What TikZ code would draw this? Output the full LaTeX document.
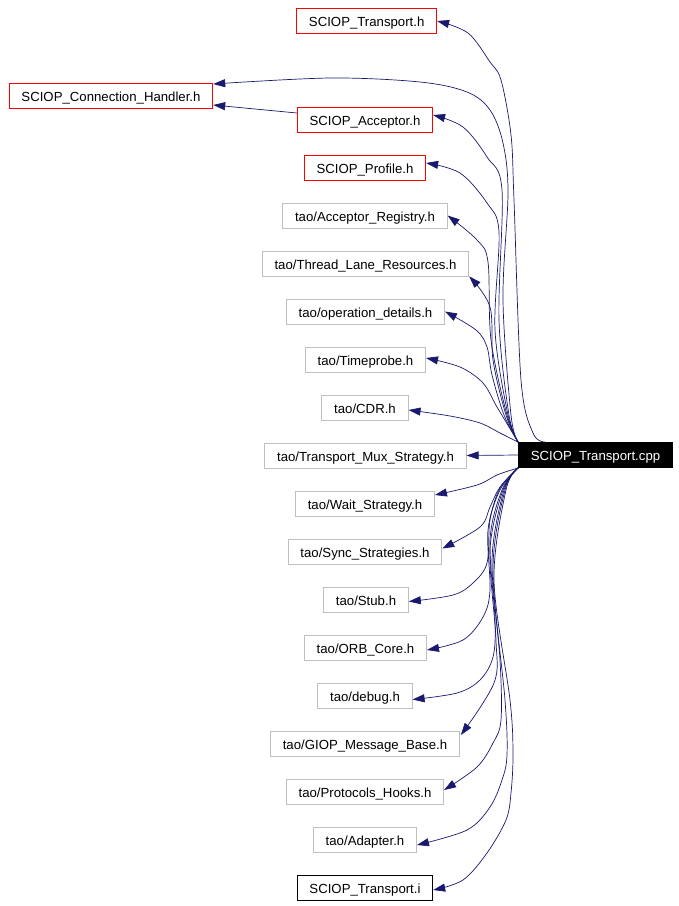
\documentclass[tikz,border=0pt]{standalone}
\usepackage{fontspec}
\setmainfont{Liberation Sans}
\usetikzlibrary{arrows.meta,calc}
\definecolor{edgec}{HTML}{191970}
\definecolor{boxgray}{HTML}{BFBFBF}
\begin{document}
\begin{tikzpicture}[x=1pt,y=-1pt,
  box/.style={draw, line width=0.8pt, minimum height=25pt, inner xsep=12.3pt, inner ysep=0pt, text height=12pt, text depth=1pt, font=\fontsize{13.2}{15}\selectfont},
  redbox/.style={box, draw=red},
  graybox/.style={box, draw=boxgray},
  blackbox/.style={box, draw=black},
  cppbox/.style={box, fill=black, text=white, draw=black},
  edge/.style={draw=edgec, line width=0.7pt, -{Triangle[length=12pt,width=8pt]}}]
\useasboundingbox (0,0) rectangle (679,906);

\node[redbox]   (Th)    at (366.7,21)   {SCIOP\_Transport.h};
\node[redbox]   (CH)    at (111,95.5)   {SCIOP\_Connection\_Handler.h};
\node[redbox]   (Acc)   at (365,119.5)  {SCIOP\_Acceptor.h};
\node[redbox]   (Prof)  at (365,167.5)  {SCIOP\_Profile.h};
\node[graybox]  (Reg)   at (365,215.5)  {tao/Acceptor\_Registry.h};
\node[graybox]  (Thr)   at (365.5,263.5){tao/Thread\_Lane\_Resources.h};
\node[graybox]  (Op)    at (365.5,311.5){tao/operation\_details.h};
\node[graybox]  (Tp)    at (365.5,359.5){tao/Timeprobe.h};
\node[graybox]  (CDR)   at (365,407.5)  {tao/CDR.h};
\node[graybox]  (Mux)   at (365.5,455.5){tao/Transport\_Mux\_Strategy.h};
\node[cppbox]   (cpp)   at (595.5,455)  {SCIOP\_Transport.cpp};
\node[graybox]  (Wait)  at (365,503.5)  {tao/Wait\_Strategy.h};
\node[graybox]  (Sync)  at (365,551.5)  {tao/Sync\_Strategies.h};
\node[graybox]  (Stub)  at (366,599.5)  {tao/Stub.h};
\node[graybox]  (ORB)   at (365.5,647.5){tao/ORB\_Core.h};
\node[graybox]  (dbg)   at (365,695.5)  {tao/debug.h};
\node[graybox]  (GIOP)  at (365,743.5)  {tao/GIOP\_Message\_Base.h};
\node[graybox]  (Proto) at (365,791.5)  {tao/Protocols\_Hooks.h};
\node[graybox]  (Adp)   at (365,839.5)  {tao/Adapter.h};
\node[blackbox] (Ti)    at (365,887.5)  {SCIOP\_Transport.i};

% end points
\coordinate (sTh)   at ($(cpp.north west)+(27,0)$);
\coordinate (tCHa)  at ($(CH.east)+(0,-11.5)$);
\coordinate (tCHb)  at ($(CH.east)+(0,9.5)$);
\coordinate (sAcc)  at ($(Acc.west)+(0,-6.5)$);
\coordinate (tAcc)  at ($(Acc.east)+(0,-4.5)$);
\coordinate (tProf) at ($(Prof.east)+(0,-4.5)$);
\coordinate (tTp)   at ($(Tp.east)+(0,-1.5)$);
\coordinate (tCDR)  at ($(CDR.east)+(0,2.5)$);
\coordinate (tWait) at ($(Wait.east)+(0,-8.5)$);
\coordinate (tSync) at ($(Sync.east)+(0,-3)$);
\coordinate (tStub) at ($(Stub.east)+(0,2)$);
\coordinate (tORB)  at ($(ORB.east)+(0,2.5)$);
\coordinate (tdbg)  at ($(dbg.east)+(0,4)$);
\coordinate (tGIOP) at ($(GIOP.east)+(1,-8.5)$);
\coordinate (tProto) at ($(Proto.east)+(0,-1.5)$);
\coordinate (tAdp)  at ($(Adp.east)+(0,5.5)$);
\coordinate (tTi)   at ($(Ti.east)+(0,2.5)$);

% upward edges
\draw[edge] plot[smooth, tension=0.55] coordinates {(sTh) (533,433) (521,380) (514,200) (511,135) (501,80) (490,62) (468,33) (Th.east)};
\draw[edge] plot[smooth, tension=0.55] coordinates {(cpp.north west) (511,415) (503,300) (508,193) (503,143) (490,110) (467,92) (420,82) (330,78) (tCHa)};
\draw[edge] (sAcc) -- (tCHb);
\draw[edge] plot[smooth, tension=0.55] coordinates {(cpp.north west) (509,415) (499,320) (502,190) (487,157) (463,127) (tAcc)};
\draw[edge] plot[smooth, tension=0.55] coordinates {(cpp.north west) (508,415) (495,330) (499,232) (487,203) (460,173) (tProf)};
\draw[edge] plot[smooth, tension=0.55] coordinates {(cpp.north west) (507,415) (491,340) (488,262) (477,240) (Reg.east)};
\draw[edge] plot[smooth, tension=0.55] coordinates {(cpp.north west) (506,415) (493,360) (490,307) (Thr.south east)};
\draw[edge] plot[smooth, tension=0.55] coordinates {(cpp.north west) (504,415) (492,375) (487,347) (476,330) (Op.east)};
\draw[edge] plot[smooth, tension=0.55] coordinates {(cpp.north west) (497,407) (483,383) (460,367) (tTp)};
\draw[edge] plot[smooth, tension=0.55] coordinates {(cpp.north west) (500,433) (480,423) (450,416) (tCDR)};
\draw[edge] (cpp.west) -- (Mux.east);

% downward edges
\draw[edge] plot[smooth, tension=0.55] coordinates {(cpp.south west) (497,475) (477,485) (tWait)};
\draw[edge] plot[smooth, tension=0.55] coordinates {(cpp.south west) (500,487) (490,507) (480,527) (tSync)};
\draw[edge] plot[smooth, tension=0.55] coordinates {(cpp.south west) (500,488) (490,520) (487,563) (473,583) (453,595) (tStub)};
\draw[edge] plot[smooth, tension=0.55] coordinates {(cpp.south west) (500,490) (488,530) (490,590) (483,617) (463,640) (tORB)};
\draw[edge] plot[smooth, tension=0.55] coordinates {(cpp.south west) (502,490) (490,540) (495,620) (493,657) (480,680) (457,693) (tdbg)};
\draw[edge] plot[smooth, tension=0.55] coordinates {(cpp.south west) (503,490) (490,550) (496,640) (494,683) (tGIOP)};
\draw[edge] plot[smooth, tension=0.55] coordinates {(cpp.south west) (504,490) (492,560) (500,660) (501,720) (493,743) (477,767) (tProto)};
\draw[edge] plot[smooth, tension=0.55] coordinates {(cpp.south west) (505,490) (493,570) (505,700) (507,755) (502,780) (490,807) (467,830) (tAdp)};
\draw[edge] plot[smooth, tension=0.55] coordinates {(cpp.south west) (506,490) (494,580) (510,700) (513,753) (511,793) (506,820) (487,853) (463,880) (tTi)};
\end{tikzpicture}
\end{document}
